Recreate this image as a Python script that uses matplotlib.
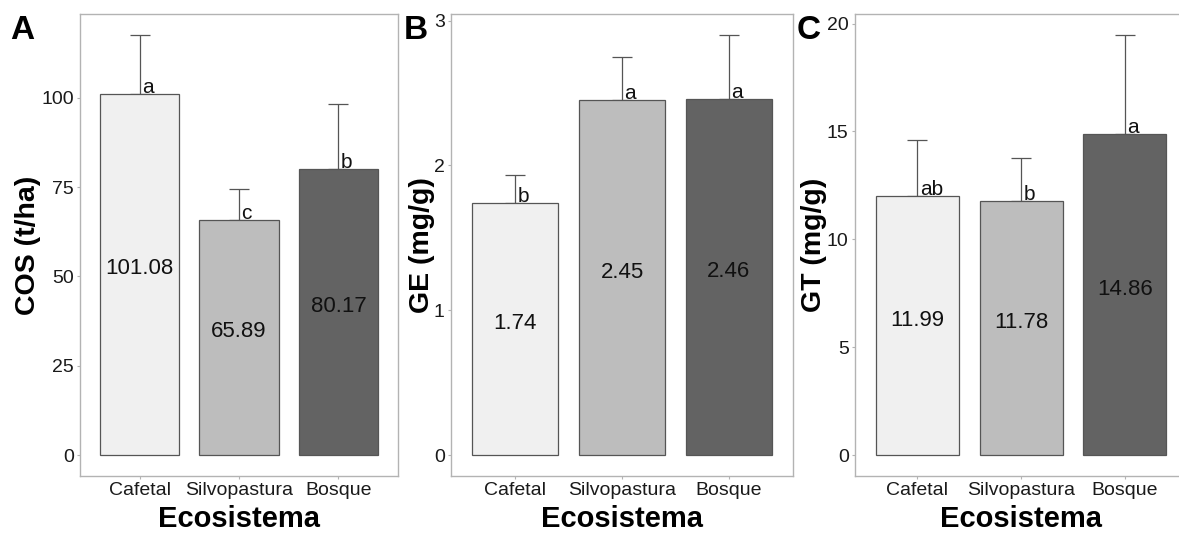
import numpy as np
import matplotlib
matplotlib.use("Agg")
import matplotlib.pyplot as plt

plt.rcParams['font.family'] = ['Liberation Sans', 'DejaVu Sans']

# datos de los tres paneles
ecosistemas = ['Cafetal', 'Silvopastura', 'Bosque']
colores = ['#f0f0f0', '#bdbdbd', '#636363']

cos_media = [101.08, 65.89, 80.17]
cos_error = [16.5, 8.6, 18.1]
cos_letras = ['a', 'c', 'b']

ge_media = [1.74, 2.45, 2.46]
ge_error = [0.19, 0.30, 0.44]
ge_letras = ['b', 'a', 'a']

gt_media = [11.99, 11.78, 14.86]
gt_error = [2.62, 1.97, 4.61]
gt_letras = ['ab', 'b', 'a']

paneles = [
    ('A', 'COS (t/ha)', cos_media, cos_error, cos_letras, [0, 25, 50, 75, 100]),
    ('B', 'GE (mg/g)', ge_media, ge_error, ge_letras, [0, 1, 2, 3]),
    ('C', 'GT (mg/g)', gt_media, gt_error, gt_letras, [0, 5, 10, 15, 20]),
]

W, H = 1179, 534
fig = plt.figure(figsize=(W / 100, H / 100), dpi=100)

# posiciones en pixeles (izq, der) y posicion de la etiqueta y
cajas = [(80, 398, 28), (451, 793, 422), (855, 1187, 814)]
letra_x = [10, 404, 797]
top_px, bot_px = 14, 476

gris = '#b3b3b3'

for (panel, ylab, media, error, letras, ticks), (x0, x1, ylx), lx in zip(paneles, cajas, letra_x):
    ax = fig.add_axes([x0 / W, (H - bot_px) / H, (x1 - x0) / W, (bot_px - top_px) / H])
    x = np.arange(len(ecosistemas))
    media = np.array(media)
    error = np.array(error)

    ax.bar(x, media, width=0.8, color=colores, edgecolor='#555555', linewidth=0.9, zorder=2)
    ax.errorbar(x, media, yerr=[np.zeros_like(error), error], fmt='none',
                ecolor='#555555', elinewidth=0.9, capsize=7.3, capthick=0.9, zorder=1)

    for xi, m, l in zip(x, media, letras):
        ax.annotate(l, (xi, m), xytext=(1.8, 0.8), textcoords='offset points',
                    ha='left', va='baseline', fontsize=15, color='#111111')
        ax.annotate('{:.2f}'.format(m), (xi, m / 2), xytext=(0, 4), textcoords='offset points',
                    ha='center', va='center', fontsize=16, color='#111111')

    tope = (media + error).max()
    ax.set_ylim(-0.05 * tope, 1.05 * tope)
    ax.set_xlim(-0.6, len(ecosistemas) - 0.4)
    ax.set_yticks(ticks)
    ax.set_xticks(x)
    ax.set_xticklabels(ecosistemas)
    ax.tick_params(colors=gris, labelcolor='#1a1a1a', labelsize=14, length=2.5, width=0.8, pad=2)

    for s in ax.spines.values():
        s.set_color(gris)
        s.set_linewidth(1.0)

    ax.set_ylabel(ylab, fontsize=20.5, fontweight='bold', va='center')
    ax.yaxis.set_label_coords((ylx - x0) / (x1 - x0), 0.5)
    ax.set_xlabel('Ecosistema', fontsize=21, fontweight='bold', va='center')
    ax.xaxis.set_label_coords(0.5, (bot_px - 519) / (bot_px - top_px))

    fig.text(lx / W, (H - 15) / H, panel, fontsize=24, fontweight='bold', ha='left', va='top')

fig.savefig('out.png', dpi=100)
